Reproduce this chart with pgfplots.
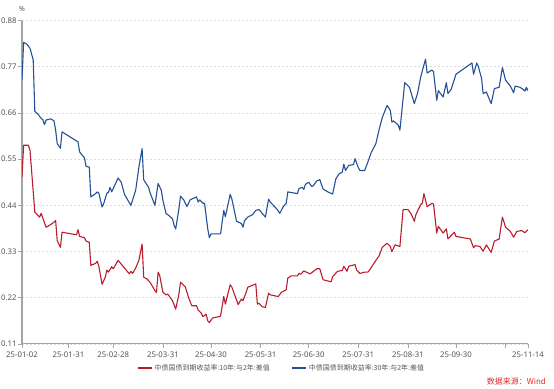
\documentclass[border=0pt]{standalone}
\usepackage{pgfplots}
\pgfplotsset{compat=1.18}
\usepackage{fontspec}
\setmainfont{Noto Sans}
\newfontfamily\cjk{Noto Sans CJK SC}
\definecolor{cred}{RGB}{185,28,44}
\definecolor{cblue}{RGB}{37,80,150}
\definecolor{axgray}{RGB}{165,165,165}
\definecolor{txtgray}{RGB}{85,85,85}
\definecolor{gridgray}{RGB}{220,220,220}
\definecolor{srcred}{RGB}{225,40,45}
\begin{document}
\begin{tikzpicture}
\begin{axis}[
  at={(22bp,45bp)}, anchor=south west,
  scale only axis, width=506bp, height=323.5bp,
  xmin=0, xmax=316, ymin=0.11, ymax=0.88,
  axis x line*=bottom, axis y line*=left,
  x axis line style={draw=axgray, line width=1bp, -},
  y axis line style={draw=axgray, line width=1.6bp, -},
  ytick={0.11,0.22,0.33,0.44,0.55,0.66,0.77,0.88},
  yticklabel style={/pgf/number format/fixed, /pgf/number format/precision=2, /pgf/number format/fixed zerofill, font=\fontsize{7.8}{9}\selectfont, text=txtgray, inner xsep=1.2bp},
  /pgf/number format/assume math mode=true,
  xtick={0,29,57,88,118,149,179,210,241,271,302,316},
  xticklabels={25-01-02,25-01-31,25-02-28,25-03-31,25-04-30,25-05-31,25-06-30,25-07-31,25-08-31,25-09-30,,25-11-14},
  xticklabel style={font=\fontsize{7.8}{9}\selectfont, text=txtgray},
  tick align=outside, major tick length=4bp,
  tick style={draw=axgray, line width=0.8bp},
  ymajorgrids, grid style={dash pattern=on 2bp off 2bp, gridgray, line width=0.6bp},
  legend style={draw=none, fill=none, at={(0.222,-0.074)}, anchor=west, legend columns=2,
    font=\cjk\fontsize{7}{8}\selectfont, text=txtgray,
    /tikz/every even column/.append style={column sep=20bp}},
  legend image code/.code={\draw[#1, line width=1.2bp] (0bp,0bp) -- (14bp,0bp);},
]
\addplot[cred, line width=1.1bp, line join=round] coordinates {
(0,0.507) (1,0.583) (4,0.583) (5,0.571) (8,0.424) (10,0.416) (11,0.412) (12,0.421) (15,0.388) (17,0.392) (20,0.400) (21,0.404) (22,0.356) (24,0.340) (25,0.376) (34,0.370) (35,0.382) (36,0.366) (39,0.363) (40,0.355) (42,0.352) (43,0.297) (46,0.302) (47,0.307) (48,0.295) (50,0.252) (52,0.269) (53,0.286) (54,0.281) (56,0.294) (57,0.289) (60,0.309) (62,0.300) (64,0.291) (67,0.277) (68,0.283) (69,0.278) (71,0.291) (73,0.309) (75,0.348) (76,0.269) (78,0.265) (80,0.257) (83,0.237) (84,0.233) (85,0.281) (86,0.273) (88,0.233) (90,0.227) (91,0.229) (94,0.213) (96,0.193) (98,0.229) (99,0.257) (102,0.246) (104,0.221) (106,0.201) (109,0.201) (110,0.191) (112,0.183) (113,0.175) (115,0.181) (116,0.165) (117,0.161) (119,0.172) (124,0.176) (126,0.223) (127,0.205) (130,0.251) (131,0.246) (135,0.204) (137,0.217) (138,0.213) (140,0.233) (141,0.245) (146,0.253) (147,0.205) (148,0.207) (150,0.199) (152,0.197) (154,0.231) (155,0.227) (160,0.223) (162,0.233) (165,0.239) (166,0.267) (168,0.272) (172,0.272) (173,0.278) (174,0.276) (176,0.284) (177,0.282) (180,0.277) (184,0.289) (186,0.289) (188,0.263) (193,0.258) (194,0.270) (197,0.283) (200,0.285) (201,0.295) (203,0.283) (204,0.295) (208,0.299) (209,0.286) (211,0.278) (214,0.281) (216,0.281) (217,0.286) (221,0.309) (223,0.320) (225,0.340) (228,0.350) (230,0.342) (231,0.330) (233,0.346) (236,0.342) (238,0.430) (241,0.430) (243,0.420) (245,0.402) (246,0.418) (249,0.442) (250,0.445) (251,0.468) (253,0.437) (256,0.445) (257,0.443) (259,0.374) (260,0.390) (263,0.374) (265,0.384) (266,0.360) (268,0.368) (270,0.376) (271,0.366) (280,0.360) (282,0.339) (283,0.344) (286,0.342) (288,0.331) (290,0.346) (293,0.328) (295,0.355) (298,0.360) (300,0.412) (302,0.388) (305,0.378) (307,0.364) (309,0.378) (312,0.380) (314,0.375) (316,0.382)
};
\addlegendentry{中债国债到期收益率:10年:与2年:差值}
\addplot[cblue, line width=1.1bp, line join=round] coordinates {
(0,0.738) (1,0.828) (3,0.824) (5,0.814) (7,0.786) (8,0.664) (10,0.657) (12,0.647) (13,0.644) (14,0.632) (15,0.643) (18,0.646) (20,0.641) (21,0.619) (22,0.587) (24,0.576) (25,0.615) (30,0.603) (35,0.591) (36,0.567) (39,0.553) (40,0.533) (42,0.531) (43,0.460) (46,0.468) (47,0.472) (48,0.469) (50,0.436) (51,0.444) (53,0.469) (54,0.471) (55,0.483) (56,0.472) (60,0.505) (62,0.495) (64,0.466) (68,0.440) (71,0.476) (73,0.531) (75,0.575) (76,0.501) (79,0.483) (80,0.470) (83,0.440) (85,0.492) (87,0.476) (88,0.452) (90,0.420) (91,0.418) (94,0.408) (95,0.392) (96,0.384) (98,0.432) (99,0.462) (101,0.453) (103,0.437) (105,0.453) (106,0.455) (109,0.460) (110,0.448) (111,0.453) (113,0.445) (114,0.445) (116,0.384) (117,0.363) (118,0.372) (124,0.372) (126,0.428) (127,0.413) (130,0.466) (131,0.456) (134,0.402) (137,0.397) (138,0.388) (139,0.404) (141,0.412) (144,0.418) (146,0.428) (148,0.430) (150,0.421) (152,0.412) (154,0.455) (155,0.448) (159,0.432) (161,0.421) (163,0.436) (165,0.445) (166,0.472) (169,0.470) (172,0.468) (173,0.480) (175,0.483) (176,0.478) (177,0.490) (179,0.495) (181,0.485) (182,0.487) (184,0.498) (186,0.501) (188,0.479) (191,0.472) (194,0.467) (196,0.503) (198,0.515) (200,0.519) (201,0.538) (202,0.523) (204,0.535) (207,0.537) (208,0.551) (210,0.530) (211,0.523) (214,0.523) (216,0.543) (218,0.565) (221,0.587) (223,0.620) (225,0.649) (228,0.678) (230,0.666) (231,0.638) (232,0.641) (235,0.631) (236,0.619) (239,0.732) (242,0.721) (245,0.682) (247,0.706) (249,0.746) (252,0.788) (253,0.755) (256,0.762) (257,0.758) (259,0.690) (260,0.713) (263,0.698) (265,0.732) (266,0.706) (268,0.716) (271,0.752) (281,0.779) (282,0.752) (284,0.779) (285,0.770) (287,0.742) (288,0.706) (290,0.710) (293,0.682) (295,0.718) (298,0.721) (300,0.768) (302,0.738) (305,0.724) (307,0.708) (308,0.724) (311,0.721) (313,0.716) (314,0.712) (315,0.721) (315.5,0.714) (316,0.718)
};
\addlegendentry{中债国债到期收益率:30年:与2年:差值}
\end{axis}
\node[anchor=base, font=\fontsize{7}{8}\selectfont, text=txtgray] at (22bp,377bp) {\%};
\node[anchor=base east, font=\cjk\fontsize{8}{9}\selectfont, text=srcred, inner sep=0pt] at (546bp,5bp) {数据来源：Wind};
\pgfresetboundingbox
\path[use as bounding box] (0,0) rectangle (554bp,389bp);
\end{tikzpicture}
\end{document}
